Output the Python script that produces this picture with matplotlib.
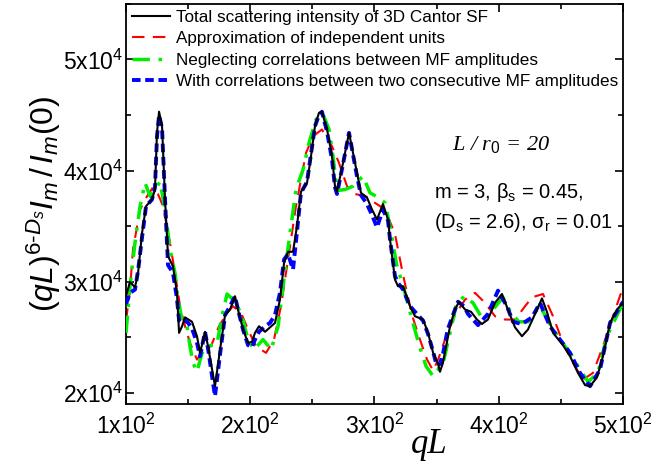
import matplotlib
matplotlib.use("Agg")
import matplotlib.pyplot as plt
from matplotlib.ticker import MultipleLocator, FuncFormatter

plt.rcParams['font.family'] = ['Liberation Sans', 'DejaVu Sans']
plt.rcParams['mathtext.fontset'] = 'custom'
plt.rcParams['mathtext.rm'] = 'Liberation Sans'
plt.rcParams['mathtext.it'] = 'Liberation Sans:italic'
plt.rcParams['mathtext.bf'] = 'Liberation Sans:bold'

# total scattering intensity of 3D Cantor SF (black)
total_q = [100, 103.2, 107.2, 109.7, 112.9, 116.1, 120.9, 123.3, 124.9, 126.6,
           129.0, 131.4, 133.8, 137.8, 141.0, 142.7, 145.1, 147.5, 153.1, 157.1,
           159.6, 163.6, 166.0, 171.6, 175.7, 179.7, 183.7, 187.7, 190.1, 194.2,
           198.2, 201.4, 203.8, 207.0, 211.9, 215.9, 219.9, 223.9, 227.2, 230.4,
           234.4, 237.6, 240.8, 245.7, 248.9, 252.1, 255.3, 257.7, 261.8, 265.8,
           268.2, 269.8, 274.5, 279.5, 285.9, 289.1, 293.9, 298.0, 302.0, 306.8,
           310.9, 312.5, 316.5, 318.9, 323.0, 328.6, 332.6, 339.1, 343.1, 347.2,
           351.2, 352.7, 355.1, 360.8, 364.8, 368.0, 372.9, 377.7, 382.5, 386.5,
           391.3, 397.0, 402.6, 407.4, 413.1, 418.7, 423.5, 427.6, 434.8, 438.8,
           443.7, 451.7, 457.4, 463.8, 469.5, 473.5, 479.1, 483.9, 489.6, 495.2, 500]
total_i = [28700, 30000, 29500, 30800, 34400, 36800, 37400, 38300, 43400, 45300,
           44000, 37400, 32300, 31400, 29000, 25400, 26000, 26800, 26400, 25100,
           23600, 25500, 24200, 20600, 23900, 27000, 27500, 28700, 27500, 25700,
           24500, 24600, 25400, 26000, 25500, 25900, 26300, 28400, 31700, 32700,
           32700, 35000, 38100, 38900, 41300, 44000, 45200, 45300, 43700, 41300,
           38600, 38100, 40600, 43400, 39800, 38000, 37600, 36500, 35600, 37000,
           35600, 33800, 30200, 29600, 29600, 27800, 26900, 26600, 25400, 23600,
           22600, 21900, 22700, 26000, 27500, 28200, 27500, 27300, 26600, 26200,
           26600, 28100, 28900, 27500, 25900, 25100, 25700, 26700, 28500, 27300,
           25400, 24300, 23300, 21800, 20700, 20600, 21400, 23300, 26300, 27500, 28100]

# approximation of independent units (red)
indep_q = [100, 103.2, 105.6, 111.3, 116.9, 121.7, 125.7, 129.8, 135.4, 139.4,
           143.5, 147.5, 151.5, 157.1, 162.8, 168.4, 174.8, 182.1, 186.1, 192.6,
           198.2, 204.6, 212.7, 219.1, 224.7, 230.4, 236.8, 244.9, 250.6, 257.7,
           265.8, 271.4, 277.9, 284.3, 292.3, 300.4, 308.5, 316.5, 323.0, 330.2,
           336.6, 342.3, 347.2, 351.2, 356.8, 364.8, 372.9, 380.9, 389.0, 397.0,
           405.1, 413.1, 421.2, 426.8, 435.6, 443.7, 451.7, 459.8, 467.8, 475.9,
           483.9, 492.0, 500]
indep_i = [26500, 29300, 32900, 36500, 37700, 38500, 37900, 36800, 33500, 30800,
           27800, 26000, 24500, 23000, 23900, 24200, 26000, 27300, 27800, 27200,
           25700, 24200, 23600, 24800, 27800, 32000, 36800, 41600, 43100, 43700,
           42200, 40700, 38600, 37900, 37700, 37100, 36500, 34300, 30600, 27000,
           24800, 23000, 22000, 23000, 24800, 27000, 28400, 29000, 28100, 26900,
           26600, 26600, 27800, 28600, 28900, 26900, 24500, 22700, 21200, 21800,
           24200, 26900, 29500]

# neglecting correlations between MF amplitudes (green)
neglect_q = [100, 103.2, 107.2, 111.3, 115.3, 119.3, 123.3, 127.4, 131.4, 135.4,
             139.4, 141.8, 145.1, 149.1, 151.5, 153.9, 157.1, 161.2, 166.0, 173.2,
             177.2, 181.3, 186.1, 192.6, 198.2, 203.0, 210.3, 216.8, 222.4, 226.4,
             231.3, 236.8, 242.5, 247.3, 252.9, 258.5, 263.4, 266.6, 269.8, 276.3,
             282.7, 290.7, 296.4, 302.8, 308.5, 313.3, 317.7, 323.8, 330.2, 336.2,
             341.5, 347.2, 351.2, 355.9, 360.8, 365.6, 372.0, 379.3, 387.3, 395.4,
             403.4, 409.8, 416.3, 423.5, 427.6, 433.2, 441.2, 449.3, 457.4, 465.4,
             471.9, 479.9, 487.1, 500]
neglect_i = [25400, 29600, 33500, 36800, 38900, 37700, 38300, 39000, 36500, 32900,
             30800, 28400, 26600, 26000, 24200, 22700, 21900, 23600, 24200, 24400,
             26900, 28900, 28400, 27200, 24800, 23900, 24800, 23900, 26000, 29600,
             33800, 38300, 40100, 42500, 44600, 45100, 43700, 41300, 38200, 38300,
             38600, 39500, 38000, 37600, 37100, 34500, 31600, 29300, 26600, 24200,
             22400, 21500, 22100, 23000, 25400, 27800, 28700, 28100, 26600, 27500,
             28600, 27200, 26400, 26400, 27000, 27800, 26200, 24800, 23600, 22100,
             21000, 21800, 25100, 28100]

# with correlations between two consecutive MF amplitudes (blue)
consec_q = [100, 103.2, 107.2, 109.7, 112.9, 116.1, 120.9, 123.3, 124.9, 126.6,
            129.0, 131.4, 133.8, 137.8, 141.0, 142.7, 145.1, 147.5, 150.0, 153.1,
            157.1, 159.6, 163.6, 166.0, 171.6, 175.7, 179.7, 183.7, 187.7, 190.1,
            194.2, 198.2, 201.4, 203.8, 207.0, 211.9, 215.9, 219.9, 223.9, 227.2,
            230.4, 234.4, 237.6, 240.8, 245.7, 248.9, 252.1, 255.3, 257.7, 261.8,
            265.8, 268.2, 269.8, 274.5, 279.5, 285.9, 289.1, 293.9, 298.0, 302.0,
            306.8, 310.9, 312.5, 316.5, 318.9, 323.0, 328.6, 335.0, 339.1, 343.1,
            347.2, 350.0, 352.7, 355.1, 358.9, 364.8, 367.2, 372.0, 375.3, 383.3,
            391.3, 399.4, 406.6, 411.5, 418.7, 426.8, 433.2, 441.2, 449.3, 457.4,
            465.4, 473.5, 481.5, 489.6, 500]
consec_i = [28000, 29000, 29300, 31000, 34000, 36800, 37400, 38500, 43000, 45000,
            43800, 37400, 31500, 30800, 28500, 26500, 26300, 26500, 26300, 25800,
            24500, 23300, 25500, 24000, 19700, 23500, 27000, 27800, 28700, 27500,
            25700, 24300, 24100, 24800, 25500, 26000, 26300, 27000, 29000, 32000,
            32500, 31100, 34500, 38000, 39000, 41500, 44000, 45000, 45300, 43500,
            41000, 38500, 37900, 40500, 43400, 39500, 37800, 37000, 36000, 34900,
            36500, 35500, 33800, 30500, 29900, 29300, 27800, 27000, 26500, 25300,
            23700, 22500, 22600, 23500, 25700, 27500, 28200, 27800, 27100, 26100,
            27100, 29200, 27800, 26400, 26200, 26800, 28100, 26000, 24800, 23600,
            21800, 20600, 22100, 26300, 28200]

labels = ['Total scattering intensity of 3D Cantor SF',
          'Approximation of independent units',
          'Neglecting correlations between MF amplitudes',
          'With correlations between two consecutive MF amplitudes']

fig = plt.figure(figsize=(6.53, 4.62), dpi=100)
ax = fig.add_axes([0.193, 0.1255, 0.761, 0.866])

ax.plot(total_q, total_i, color='black', lw=1.5, label=labels[0], zorder=5)
ax.plot(indep_q, indep_i, color='#ff0000', lw=1.5, dashes=(6, 4), label=labels[1], zorder=2)
ax.plot(neglect_q, neglect_i, color='#00ee00', lw=2.5, dashes=(5, 2.5, 1, 2.5), label=labels[2], zorder=3)
ax.plot(consec_q, consec_i, color='#0000ff', lw=2.8, dashes=(2.2, 1.2), label=labels[3], zorder=4)

ax.set_xlim(100, 500)
ax.set_ylim(19000, 55000)
ax.xaxis.set_major_locator(MultipleLocator(100))
ax.xaxis.set_minor_locator(MultipleLocator(50))
ax.yaxis.set_major_locator(MultipleLocator(10000))
ax.yaxis.set_minor_locator(MultipleLocator(5000))
ax.xaxis.set_major_formatter(FuncFormatter(lambda v, p: r'%dx10$^2$' % round(v / 100)))
ax.yaxis.set_major_formatter(FuncFormatter(lambda v, p: r'%dx10$^4$' % round(v / 10000)))
ax.tick_params(which='both', direction='in', top=True, right=True, width=1.2)
ax.tick_params(which='major', length=6, labelsize=16.5)
ax.tick_params(which='minor', length=3.5)
ax.tick_params(axis='x', pad=7)
ax.tick_params(axis='y', pad=2)
for s in ax.spines.values():
    s.set_linewidth(1.3)

ax.set_ylabel(r'$(qL)^{6\text{-}D_s}I_m\,/\,I_m(0)$', fontsize=23, labelpad=0)
ax.text(0.61, -0.06, 'qL', transform=ax.transAxes, ha='center', va='top',
        fontsize=25, family='Liberation Serif', style='italic')

ax.text(0.755, 0.635, r'L / r$_{0}$ = 20', transform=ax.transAxes, ha='center',
        fontsize=16, family='Liberation Serif', style='italic')
ax.text(0.62, 0.515, r'm = 3, $\mathrm{\beta_s}$ = 0.45,', transform=ax.transAxes,
        fontsize=14.5)
ax.text(0.62, 0.44, r'(D$_\mathrm{s}$ = 2.6), $\mathrm{\sigma_r}$ = 0.01', transform=ax.transAxes,
        fontsize=14.5)

ax.legend(loc='upper left', frameon=False, fontsize=12.3, handlelength=2.2,
          handletextpad=0.35, labelspacing=0.38, borderaxespad=0.05,
          borderpad=0.3, bbox_to_anchor=(0.0, 1.0))

fig.savefig('out.png', dpi=100)
